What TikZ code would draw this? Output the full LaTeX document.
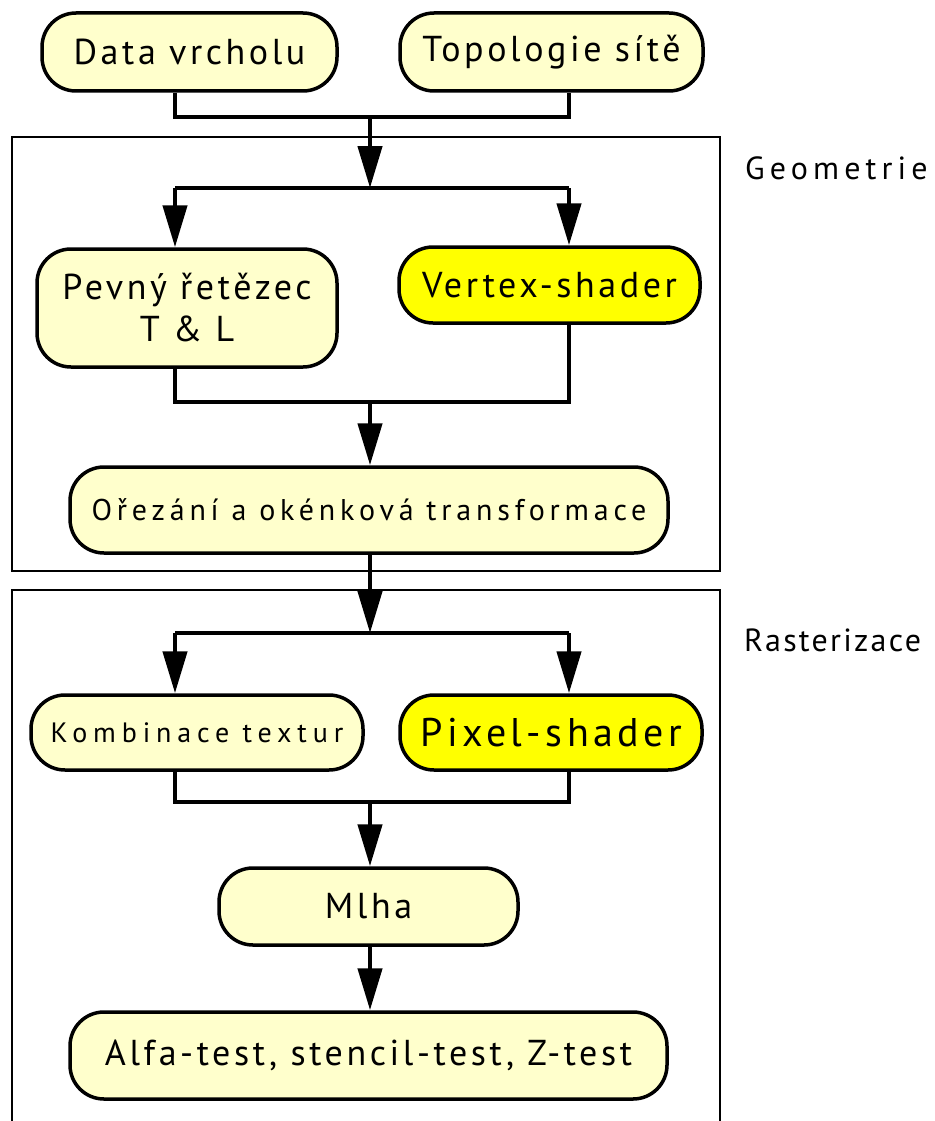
\documentclass[tikz,border=0pt]{standalone}
\usepackage{fontspec}
\setmainfont{PT Sans}[LetterSpace=10]
\usetikzlibrary{arrows.meta}
\definecolor{lightyel}{HTML}{FFFFCC}
\definecolor{brightyel}{HTML}{FFFF00}
\begin{document}
\begin{tikzpicture}[x=1pt,y=-1pt,
  stage/.style={draw=black, line width=3.5pt, rounded corners=34pt, fill=lightyel,
    inner sep=0pt, align=center, font=\fontsize{36}{42}\selectfont},
  shader/.style={stage, fill=brightyel},
  group/.style={draw=black, line width=2.5pt},
  grouplabel/.style={anchor=west, inner sep=0pt, font=\fontsize{32}{36}\selectfont\addfontfeatures{LetterSpace=16}},
  link/.style={draw=black, line width=4.5pt},
  flow/.style={link, -{Triangle[length=42pt,width=24pt]}}
]
\useasboundingbox[fill=white] (0,0) rectangle (934,1121);

% group boxes
\draw[group] (12,137) rectangle (720,571);
\draw[group] (12,1121) -- (12,590) -- (720,590) -- (720,1121);
\node[grouplabel] (lgeo) at (745,168) {Geometrie};
\node[grouplabel, font=\fontsize{32}{36}\selectfont\addfontfeatures{LetterSpace=7}] (lras) at (744,640) {Rasterizace};

% helper columns
\coordinate (xl) at (175,0);
\coordinate (xm) at (370,0);
\coordinate (xr) at (569,0);
\coordinate (j1) at (370,117);
\coordinate (j2) at (370,188);
\coordinate (j3) at (370,402);
\coordinate (j4) at (370,633);
\coordinate (j5) at (370,802);

% nodes
\node[stage, minimum width=295pt, minimum height=78pt] (data) at (189.5,52) {Data vrcholu};
\node[stage, minimum width=303pt, minimum height=78pt] (topo) at (551.5,52) {Topologie sítě};
\node[stage, minimum width=300pt, minimum height=118pt] (pevny) at (187,308) {Pevný řetězec\\T \& L};
\node[shader, minimum width=301pt, minimum height=76pt] (vertex) at (549.5,285) {Vertex-shader};
\node[stage, minimum width=598pt, minimum height=86pt, font=\fontsize{30}{34}\selectfont\addfontfeatures{LetterSpace=16}] (orez) at (369,510) {Ořezání a okénková transformace};
\node[stage, minimum width=332pt, minimum height=75pt, font=\fontsize{28}{32}\selectfont\addfontfeatures{LetterSpace=21}] (komb) at (197,732.5) {Kombinace textur};
\node[shader, minimum width=302pt, minimum height=75pt, font=\fontsize{40}{44}\selectfont\addfontfeatures{LetterSpace=11}] (pixel) at (551,732.5) {Pixel-shader};
\node[stage, minimum width=299pt, minimum height=77pt] (mlha) at (368.5,906.5) {Mlha};
\node[stage, minimum width=597pt, minimum height=87pt] (alfa) at (368.5,1055.5) {Alfa-test, stencil-test, Z-test};

% connectors
\draw[link] (data.south -| xl) -- (xl |- j1) -- (xr |- j1) -- (topo.south -| xr);
\draw[flow] (j1) -- (j2);
\draw[link] (xl |- j2) -- (xr |- j2);
\draw[flow] (xl |- j2) -- (pevny.north -| xl);
\draw[flow] (xr |- j2) -- (vertex.north -| xr);
\draw[link] (pevny.south -| xl) -- (xl |- j3) -- (xr |- j3) -- (vertex.south -| xr);
\draw[flow] (j3) -- (orez.north -| xm);
\draw[flow] (orez.south -| xm) -- (j4);
\draw[link] (xl |- j4) -- (xr |- j4);
\draw[flow] (xl |- j4) -- (komb.north -| xl);
\draw[flow] (xr |- j4) -- (pixel.north -| xr);
\draw[link] (komb.south -| xl) -- (xl |- j5) -- (xr |- j5) -- (pixel.south -| xr);
\draw[flow] (j5) -- (mlha.north -| xm);
\draw[flow] (mlha.south -| xm) -- (alfa.north -| xm);
\end{tikzpicture}
\end{document}
